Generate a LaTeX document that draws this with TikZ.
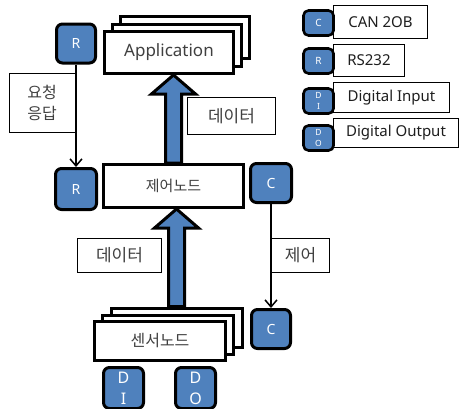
\documentclass[tikz,border=0pt]{standalone}
\usepackage{fontspec}
\setmainfont{Noto Sans}
\newfontfamily\krfont{Noto Sans CJK KR}
\usepackage{xcolor}
\definecolor{badgeblue}{RGB}{79, 129, 189}
\definecolor{labelgray}{RGB}{64, 64, 64}
\definecolor{legendink}{RGB}{30, 30, 30}
\usepackage{tikz}
\usetikzlibrary{arrows.meta, positioning, calc}

\tikzset{
  badge/.style={draw, line width=3pt, fill=badgeblue, rounded corners=6pt,
    minimum width=39pt, minimum height=39pt, inner sep=0pt, text=white,
    align=center, font=\fontsize{14}{14}\selectfont},
  legbadge/.style={badge, line width=2.6pt, rounded corners=5pt,
    minimum width=30pt, minimum height=25pt, font=\fontsize{10}{10}\selectfont\bfseries},
  stackbox/.style={draw, line width=3pt, fill=white, minimum width=129pt,
    minimum height=42pt, inner sep=0pt, text=labelgray},
  tagbox/.style={draw, line width=1pt, fill=white, inner sep=0pt,
    text=labelgray, align=center, font=\krfont\fontsize{16}{21}\selectfont},
  legbox/.style={draw, line width=1pt, fill=white, inner sep=0pt, anchor=west,
    text=legendink, font=\fontsize{15}{15}\selectfont},
  signal/.style={line width=1.5pt, -{Straight Barb[length=7pt,width=12pt,line width=1.5pt]}},
  flow/.style={draw, line width=3pt, fill=badgeblue, line join=miter},
}

\newcommand\bigflow[2]{%
  \draw[flow] ($(#1)+(-8,0)$) -- ($(#2)+(-8,19)$) -- ($(#2)+(-22,19)$) -- (#2)
    -- ($(#2)+(22,19)$) -- ($(#2)+(8,19)$) -- ($(#1)+(8,0)$) -- cycle;}

\begin{document}
\begin{tikzpicture}[x=1pt, y=-1pt]
    \useasboundingbox (0,0) rectangle (460,408);

    \node[stackbox] (app3) at (185,37) {};
    \node[stackbox] (app2) at (177,45) {};
    \node[stackbox, font=\fontsize{17}{17}\selectfont] (app) at (169,52.5) {Application};

    \node[stackbox, minimum width=140pt, minimum height=43pt,
      font=\krfont\fontsize{15}{15}\selectfont] (ctrl) at (173.5,186) {제어노드};

    \node[stackbox, minimum width=131pt, minimum height=39pt] (sens3) at (176.5,327.5) {};
    \node[stackbox, minimum width=131pt, minimum height=39pt] (sens2) at (168,334.5) {};
    \node[stackbox, minimum width=131pt, minimum height=39pt,
      font=\krfont\fontsize{16}{16}\selectfont] (sens) at (160,341) {센서노드};

    \node[badge] (rtop) at (76,43.5) {R};
    \node[badge, minimum width=41pt, minimum height=41pt] (rmid) at (76,189) {R};
    \node[badge, minimum width=41pt] (cmid) at (271,183) {C};
    \node[badge] (cbot) at (271,329) {C};
    \node[badge, minimum width=40pt, minimum height=41pt,
      font=\fontsize{16}{21}\selectfont] (din) at (123.5,388) {D\\I};
    \node[badge, minimum width=40pt, minimum height=41pt,
      font=\fontsize{16}{21}\selectfont] (dout) at (195.5,388) {D\\O};

    \coordinate (uptip) at (ctrl.north |- app.south);
    \coordinate (lowtip) at (sens3.north |- ctrl.south);
    \bigflow{ctrl.north}{uptip}
    \bigflow{sens3.north}{lowtip}

    \node[tagbox, minimum width=66pt, minimum height=59pt] (reqres) at (42,103) {요청\\응답};
    \node[tagbox, minimum width=88pt, minimum height=37pt, font=\krfont\fontsize{17}{17}\selectfont]
      (dataup) at (231.5,116) {데이터};
    \node[tagbox, minimum width=84pt, minimum height=34pt, font=\krfont\fontsize{17}{17}\selectfont]
      (datalow) at (119.5,255.5) {데이터};
    \node[tagbox, minimum width=58pt, minimum height=34pt, font=\krfont\fontsize{17}{17}\selectfont]
      (ctrltag) at (300.5,255.5) {제어};

    \draw[signal] (rtop) -- (rmid);
    \draw[signal] (cmid) -- (cbot);

    \node[legbox, minimum width=94pt, minimum height=33pt] (legcan) at (333,22) {CAN 2OB};
    \node[legbox, minimum width=71pt, minimum height=32pt] (legrs) at (333,60.5) {RS232};
    \node[legbox, minimum width=116pt, minimum height=30pt] (legdi) at (333,97.5) {Digital Input};
    \node[legbox, minimum width=125pt, minimum height=29pt] (legdo) at (333,133) {Digital Output};

    \node[legbadge] (keyc) at (318.5,23) {C};
    \node[legbadge] (keyr) at (318.5,61) {R};
    \node[legbadge, font=\fontsize{8.5}{11}\selectfont\bfseries] (keydi) at (318.5,101) {D\\I};
    \node[legbadge, font=\fontsize{8.5}{11}\selectfont\bfseries] (keydo) at (318.5,138) {D\\O};
\end{tikzpicture}
\end{document}
